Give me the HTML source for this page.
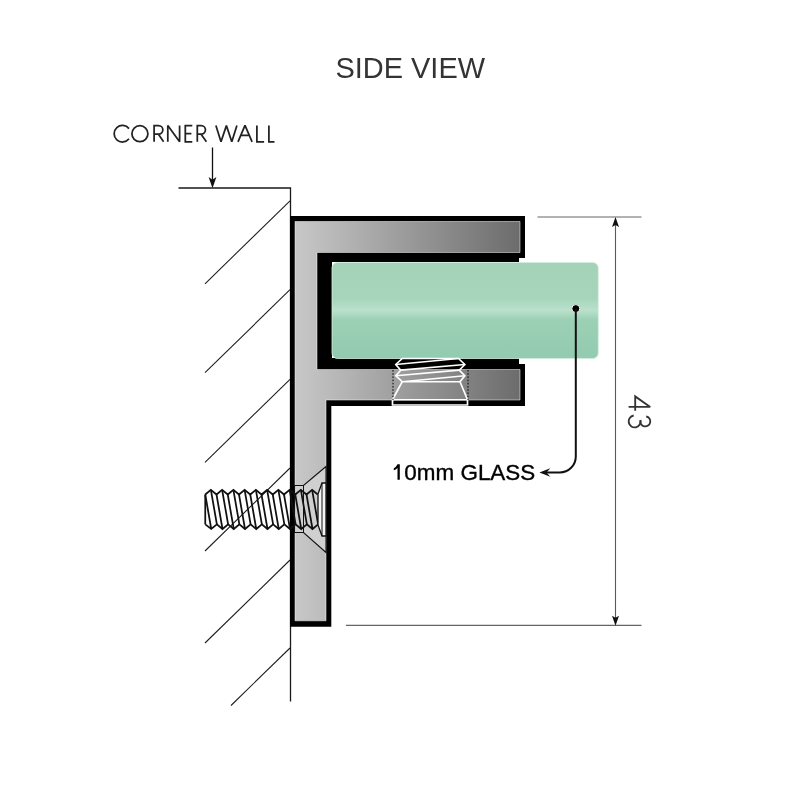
<!DOCTYPE html>
<html><head><meta charset="utf-8">
<style>
html,body{margin:0;padding:0;background:#fff;width:800px;height:800px;overflow:hidden}
svg{display:block;will-change:transform}
text{font-family:"Liberation Sans",sans-serif}
</style></head>
<body>
<svg width="800" height="800" viewBox="0 0 800 800">
<defs>
<linearGradient id="gr" x1="300" y1="0" x2="520" y2="0" gradientUnits="userSpaceOnUse">
<stop offset="0" stop-color="#c6c6c6"/>
<stop offset="1" stop-color="#6c6c6c"/>
</linearGradient>
<linearGradient id="gl" x1="0" y1="262.5" x2="0" y2="358" gradientUnits="userSpaceOnUse">
<stop offset="0" stop-color="#a4d2b8"/>
<stop offset="0.38" stop-color="#a7d5bc"/>
<stop offset="0.5" stop-color="#bae1cc"/>
<stop offset="0.6" stop-color="#9cd0b5"/>
<stop offset="1" stop-color="#92cbb0"/>
</linearGradient>
</defs>
<rect width="800" height="800" fill="#fff"/>

<!-- titles -->
<text x="335.5" y="77.6" font-size="28.8" fill="#333" textLength="149.5" lengthAdjust="spacingAndGlyphs">SIDE VIEW</text>
<g fill="none" stroke="#222" stroke-width="1.75" stroke-linejoin="miter" stroke-miterlimit="2.2">
<path d="M129,128.6 A8.3,8.3 0 1 0 129,138.8"/>
<circle cx="139.9" cy="133.7" r="8"/>
<path d="M154.1,141.8 L154.1,125.6 L158.6,125.6 A4.25,4.25 0 0 1 158.6,134.1 L154.1,134.1 M158.3,134.1 L163.6,141.8"/>
<path d="M167.8,141.8 L167.8,125.6 L179.6,141.8 L179.6,125.6"/>
<path d="M192.3,125.6 L185.3,125.6 L185.3,141.8 L192.3,141.8 M185.3,133.6 L191.4,133.6"/>
<path d="M197.3,141.8 L197.3,125.6 L201.2,125.6 A4.25,4.25 0 0 1 201.2,134.1 L197.3,134.1 M200.9,134.1 L206.4,141.8"/>
<path d="M215.9,125.6 L221,141.8 L226.4,125.6 L231.8,141.8 L236.9,125.6"/>
<path d="M238,141.8 L245,125.4 L252.1,141.8 M240.8,135.4 L249.3,135.4"/>
<path d="M256.9,125.6 L256.9,141.8 L264.1,141.8"/>
<path d="M268.9,125.6 L268.9,141.8 L274.5,141.8"/>
</g>

<!-- corner wall arrow -->
<line x1="212.5" y1="147.5" x2="212.5" y2="180" stroke="#111" stroke-width="1.3"/>
<path d="M212.5,188.2 L208.6,177 L212.5,179.8 L216.4,177 Z" fill="#111"/>
<path d="M178.5,188 L290.5,188 L290.5,701.5" fill="none" stroke="#1a1a1a" stroke-width="1.3"/>

<!-- hatch -->
<g stroke="#1a1a1a" stroke-width="1.05">
<line x1="290" y1="200.8" x2="205" y2="283.8"/>
<line x1="290" y1="289.7" x2="205" y2="372.7"/>
<line x1="290" y1="379.3" x2="205" y2="462.3"/>
<line x1="290" y1="468" x2="205" y2="551"/>
<line x1="290" y1="560" x2="205" y2="643"/>
<line x1="290" y1="648" x2="231" y2="705.5"/>
</g>

<!-- profile black -->
<path d="M290,216 L525,216 L525,258 L519,258 L519,262 L332,262 L332,358 L519,358 L519,364 L525,364 L525,406 L331.3,406 L331.3,626.8 L290,626.8 Z" fill="#000"/>
<!-- gray -->
<path d="M295,221.5 L520,221.5 L520,252.5 L317,252.5 L317,369.5 L520,369.5 L520,400 L326,400 L326,620.8 L295,620.8 Z" fill="url(#gr)" stroke="#fff" stroke-opacity="0.5" stroke-width="1"/>

<!-- glass -->
<rect x="332" y="262.5" width="266.3" height="96" rx="5.5" fill="url(#gl)" stroke="#d6eee0" stroke-width="0.8"/>

<!-- grub screw -->
<g fill="none" stroke="#fff" stroke-width="1.7" stroke-linejoin="miter">
<path d="M402.25,358.5 L458.5,358.5 L464.8,364.5 L459.25,370.2 L464.8,375.75 L460,381.75 L467.5,399.75 L467.5,405 L392.5,405 L392.5,399.75 L402.25,381.75 L395.8,375.75 L400.75,370.2 L395.8,364.5 Z"/>
<path d="M395.8,364.5 L458.5,358.5 M400.75,370.2 L464.8,364.5 M395.8,375.75 L459.25,370.2 M402.25,381.75 L464.8,375.75 M392.5,399.75 L467.5,399.75 M402.25,381.75 L460,381.75"/>
</g>
<g stroke="#000" stroke-width="1" stroke-dasharray="1.6,1.6">
<line x1="393" y1="370" x2="393" y2="400"/>
<line x1="468" y1="370" x2="468" y2="400"/>
</g>

<!-- countersink -->
<path d="M294.5,485.5 L303.5,485.5 L326,466.5 L326,552.5 L303.5,532.5 L294.5,532.5 Z" fill="#d0d0d0" stroke="#111" stroke-width="1.1"/>
<line x1="303.5" y1="485.5" x2="303.5" y2="532.5" stroke="#111" stroke-width="1"/>

<!-- side bolt -->
<path d="M205.25,494.5 L210.88,489.8 L216.5,494.5 L222.12,489.8 L227.75,494.5 L233.38,489.8 L239,494.5 L244.62,489.8 L250.25,494.5 L255.88,489.8 L261.5,494.5 L267.12,489.8 L272.75,494.5 L278.38,489.8 L284,494.5 L289.62,489.8 L295.25,494.5 L300.88,489.8 L306.5,494.5 L312.12,489.8 L317.75,494.5 L318.12,524.4 L312.5,529 L306.88,524.4 L301.25,529 L295.62,524.4 L290,529 L284.38,524.4 L278.75,529 L273.12,524.4 L267.5,529 L261.88,524.4 L256.25,529 L250.62,524.4 L245,529 L239.38,524.4 L233.75,529 L228.12,524.4 L222.5,529 L216.88,524.4 L211.25,529 L205.25,524.4 Z" fill="#fff" opacity="0.0"/>
<g fill="none" stroke="#111" stroke-width="1.75" stroke-linejoin="miter">
<path d="M205.25,494.5 L210.88,489.8 L216.5,494.5 L222.12,489.8 L227.75,494.5 L233.38,489.8 L239,494.5 L244.62,489.8 L250.25,494.5 L255.88,489.8 L261.5,494.5 L267.12,489.8 L272.75,494.5 L278.38,489.8 L284,494.5 L289.62,489.8 L295.25,494.5 L300.88,489.8 L306.5,494.5 L312.12,489.8 L317.75,494.5"/>
<path d="M205.25,524.4 L211.25,529 L216.88,524.4 L222.5,529 L228.12,524.4 L233.75,529 L239.38,524.4 L245,529 L250.62,524.4 L256.25,529 L261.88,524.4 L267.5,529 L273.12,524.4 L278.75,529 L284.38,524.4 L290,529 L295.62,524.4 L301.25,529 L306.88,524.4 L312.5,529 L318.12,524.4"/>
<path d="M205.25,494.5 L211.25,529 M210.88,489.8 L216.88,524.4 M216.5,494.5 L222.5,529 M222.12,489.8 L228.12,524.4 M227.75,494.5 L233.75,529 M233.38,489.8 L239.38,524.4 M239,494.5 L245,529 M244.62,489.8 L250.62,524.4 M250.25,494.5 L256.25,529 M255.88,489.8 L261.88,524.4 M261.5,494.5 L267.5,529 M267.12,489.8 L273.12,524.4 M272.75,494.5 L278.75,529 M278.38,489.8 L284.38,524.4 M284,494.5 L290,529 M289.62,489.8 L295.62,524.4 M295.25,494.5 L301.25,529 M300.88,489.8 L306.88,524.4 M306.5,494.5 L312.5,529 M312.12,489.8 L318.12,524.4"/>
<line x1="205.25" y1="494.5" x2="205.25" y2="524.4"/>
</g>
<!-- bolt head -->
<path d="M318,494 L322,483 L326,483 L326,536 L322,536 L318,525 Z" fill="#f4f4f4" stroke="#111" stroke-width="1.3"/>
<line x1="322" y1="483" x2="322" y2="536" stroke="#111" stroke-width="1"/>

<!-- leader -->
<circle cx="575.8" cy="308.6" r="4" fill="#000" stroke="#f4fbf7" stroke-width="1"/>
<path d="M575.8,308.6 L575.8,456.5 A16,16 0 0 1 559.8,472.5 L545,472.5" fill="none" stroke="#111" stroke-width="2"/>
<path d="M539.4,472.5 L550.3,468.2 L546.5,472.5 L550.3,476.8 Z" fill="#111"/>
<path d="M397.5,464.2 L399.8,464.2 L399.8,479.7 L397.5,479.7 L397.5,467.9 Q395.8,469.5 393.8,470.3 L393.8,468.3 Q396.2,467 397.5,464.2 Z" fill="#000"/>
<text x="404.3" y="479.7" font-size="22.6" fill="#000" stroke="#000" stroke-width="0.35" textLength="131" lengthAdjust="spacingAndGlyphs">0mm GLASS</text>

<!-- dimension -->
<g stroke="#666" stroke-width="1.2">
<line x1="537.5" y1="217" x2="641.5" y2="217"/>
<line x1="346" y1="625.4" x2="641.5" y2="625.4"/>
</g>
<line x1="615.5" y1="224" x2="615.5" y2="618" stroke="#5a5a5a" stroke-width="1.1"/>
<path d="M615.5,217 L619,227 L615.5,225 L612,227 Z" fill="#111"/>
<path d="M615.5,625.8 L619,615.8 L615.5,617.8 L612,615.8 Z" fill="#111"/>
<g fill="none" stroke="#333" stroke-width="1.85" stroke-linejoin="miter" stroke-miterlimit="2.2">
<path d="M635.2,410.8 L635.2,396.4 L650.2,406.9 L628.6,406.9"/>
<path d="M633.7,415.5 A6,6 0 1 0 640.5,420"/>
<path d="M640.4,420.4 A5,5 0 1 0 646.2,416.5"/>
</g>
</svg>
</body></html>
